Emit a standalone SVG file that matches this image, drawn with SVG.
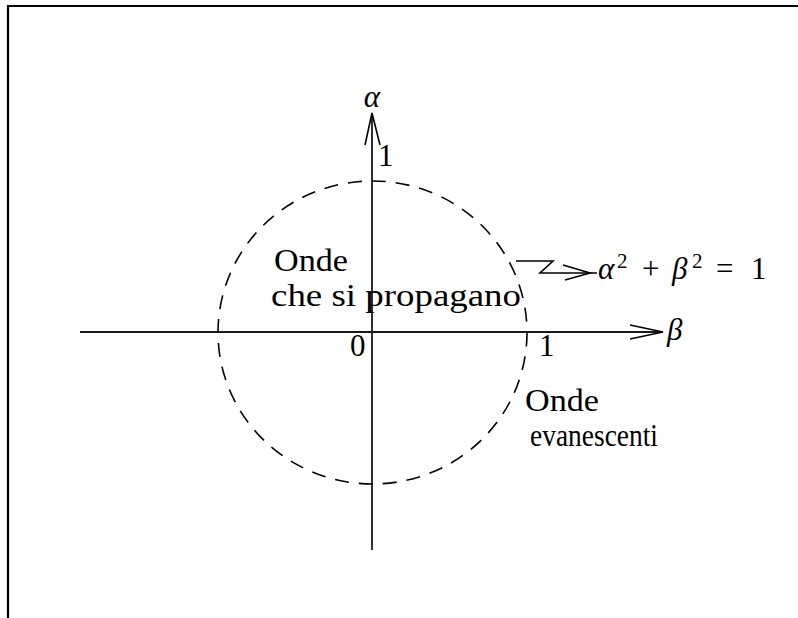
<svg xmlns="http://www.w3.org/2000/svg" width="798" height="618" viewBox="0 0 798 618">
<style>
.ln{stroke:#000;stroke-width:1.6;fill:none}
.ax{stroke:#1a1a1a;stroke-width:1.8;fill:none}
.t{font-family:"Liberation Serif","DejaVu Serif",serif;font-size:31px;fill:#000}
.m{font-family:"Liberation Serif","DejaVu Serif",serif;font-style:italic;font-size:31px;fill:#000}
.s{font-family:"Liberation Serif","DejaVu Serif",serif;font-size:21px;fill:#000}
</style>
<rect width="798" height="618" fill="#fff"/>
<g id="frame">
<path d="M8,618 V6 H798" stroke="#000" stroke-width="2.2" fill="none"/>
</g>
<g id="connectors">
<path class="ax" d="M372,550 V113"/>
<path class="ln" d="M365,145 L372,113 L380,145"/>
<path class="ax" d="M80,332 H663"/>
<path class="ln" d="M630,325 L663,332 L630,339"/>
<path class="ln" d="M516,261 H553 L540,273 H597"/>
<path class="ln" d="M563,265 L590,273 L565,280"/>
</g>
<g id="circle">
<ellipse cx="372.5" cy="332.5" rx="154.5" ry="151.5" fill="none" stroke="#000" stroke-width="1.6" stroke-dasharray="14 10"/>
</g>
<g id="labels">
<text class="m" x="372" y="107" text-anchor="middle">α</text>
<text class="t" x="378" y="166">1</text>
<text class="m" x="667" y="340">β</text>
<text class="t" x="350" y="356">0</text>
<text class="t" x="539" y="356">1</text>
<text class="t" x="274" y="271" textLength="74" lengthAdjust="spacingAndGlyphs">Onde</text>
<text class="t" x="271" y="306" textLength="250" lengthAdjust="spacingAndGlyphs">che si propagano</text>
<text class="t" x="525" y="411" textLength="74" lengthAdjust="spacingAndGlyphs">Onde</text>
<text class="t" x="530" y="446" textLength="128" lengthAdjust="spacingAndGlyphs">evanescenti</text>
<g id="formula">
<text class="m" x="598" y="279">α</text>
<text class="s" x="617" y="268">2</text>
<text class="t" x="642" y="279">+</text>
<text class="m" x="672" y="279">β</text>
<text class="s" x="692" y="268">2</text>
<text class="t" x="716" y="279">=</text>
<text class="t" x="751" y="279">1</text>
</g>
</g>
</svg>
